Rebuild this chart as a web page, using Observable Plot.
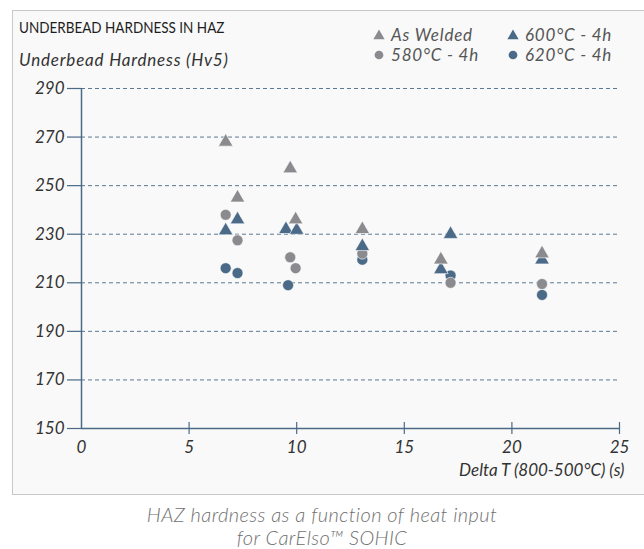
<!DOCTYPE html>
<html>
<head>
<meta charset="utf-8">
<script src="https://cdn.jsdelivr.net/npm/d3@7"></script>
<script src="https://cdn.jsdelivr.net/npm/@observablehq/plot@0.6"></script>
<style>
  html, body { margin: 0; padding: 0; background: #ffffff; }
  body { width: 644px; height: 549px; position: relative; overflow: hidden; font-family: Lato, "Open Sans", sans-serif; }
  #box { position: absolute; left: 12px; top: 10px; width: 640px; height: 483px; background: #f9f9f9;
         border-top: 1.5px solid #c8c8c8; border-left: 1.5px solid #c8c8c8; border-bottom: 1.5px solid #c8c8c8; }
  #title { position: absolute; left: 19px; top: 17px; font-size: 15.5px; color: #1e1e1e; line-height: 20px;
           transform: scaleX(0.87); transform-origin: 0 50%; white-space: nowrap; }
  #ylab { position: absolute; left: 19px; top: 50px; font-size: 17px; font-style: italic; color: #333; line-height: 20px; letter-spacing: 0.8px; white-space: nowrap; }
  #legend { position: absolute; left: 372px; top: 25px; font-size: 17px; font-style: italic; color: #555; letter-spacing: 0.8px; }
  .lg { position: absolute; white-space: nowrap; line-height: 20px; height: 20px; }
  .lg svg { position: absolute; left: 0; top: 0; }
  .lg span { position: absolute; left: 19px; top: 0; }
  #chart { position: absolute; left: 0; top: 70px; }
  #caption { position: absolute; left: 0; width: 644px; top: 503px; text-align: center; font-size: 20px; font-weight: 300; font-style: italic; color: #707070; line-height: 23px; letter-spacing: 0.4px; }
</style>
</head>
<body>
<div id="box"></div>
<div id="title">UNDERBEAD HARDNESS IN HAZ</div>
<div id="ylab">Underbead Hardness (Hv5)</div>
<div id="legend"></div>
<div id="chart"></div>
<div id="caption">HAZ hardness as a function of heat input<br>for CarElso™ SOHIC</div>
<script>
// ---- data ----
const seriesNames = ["As Welded", "580°C - 4h", "600°C - 4h", "620°C - 4h"];
const seriesSymbols = ["triangle", "circle", "triangle", "circle"];
const seriesColors = ["#8b8b8f", "#8b8b8f", "#4a6a88", "#4a6a88"];

const asWeldedX = [6.7, 7.25, 9.7, 9.95, 13.05, 16.7, 21.4];
const asWeldedY = [268, 245, 257, 236, 232, 219.5, 222];
const c580X = [6.7, 7.25, 9.7, 9.95, 13.05, 17.15, 21.4];
const c580Y = [238, 227.5, 220.5, 216, 222, 210, 209.5];
const c600X = [6.7, 7.25, 9.5, 10.0, 13.05, 16.7, 17.15, 21.4];
const c600Y = [231.5, 236, 232, 231.7, 225, 215.5, 230, 219.5];
const c620X = [6.7, 7.25, 9.6, 13.05, 17.15, 21.4];
const c620Y = [216, 214, 209, 219.5, 213, 205];

const xTicks = [0, 5, 10, 15, 20, 25];
const yTicks = [150, 170, 190, 210, 230, 250, 270, 290];
const xLabel = "Delta T (800-500°C) (s)";

const seriesX = [asWeldedX, c580X, c600X, c620X];
const seriesY = [asWeldedY, c580Y, c600Y, c620Y];
const table = (i) => seriesX[i].map((x, j) => ({x, y: seriesY[i][j], s: seriesNames[i]}));

// ---- legend ----
const legend = document.getElementById("legend");
const legendPos = [[0, 0], [0, 20], [134, 0], [134, 20]];
seriesNames.forEach((name, i) => {
  const d = document.createElement("div");
  d.className = "lg";
  d.style.left = legendPos[i][0] + "px";
  d.style.top = legendPos[i][1] + "px";
  const sym = seriesSymbols[i] === "triangle" ? d3.symbolTriangle : d3.symbolCircle;
  const size = seriesSymbols[i] === "triangle" ? 55 : 60;
  d.innerHTML = `<svg width="16" height="20"><path transform="translate(7,${seriesSymbols[i]==="triangle"?11:10})" d="${d3.symbol(sym, size)()}" fill="${seriesColors[i]}"/></svg><span>${name}</span>`;
  legend.appendChild(d);
});

// ---- chart ----
const order = [3, 1, 2, 0];
const dotMarks = order.map(i => Plot.dot(table(i), {
  x: "x", y: "y",
  symbol: () => seriesSymbols[i],
  r: seriesSymbols[i] === "triangle" ? 5.4 : 5.5,
  fill: seriesColors[i],
  stroke: "#ffffff", strokeWidth: 0.6
}));

const axisColor = "#4a6a88";
const chart = Plot.plot({
  width: 644,
  height: 420,
  marginLeft: 81,
  marginRight: 25,
  marginTop: 18,
  marginBottom: 62,
  style: { background: "transparent", fontFamily: "Lato, 'Open Sans', sans-serif", overflow: "visible" },
  x: { domain: [0, 25] },
  y: { domain: [150, 290] },
  symbol: { type: "identity" },
  marks: [
    Plot.gridY(yTicks.filter(t => t > 150), { stroke: axisColor, strokeOpacity: 0.9, strokeWidth: 1, strokeDasharray: "4,3" }),
    Plot.ruleY([150], { stroke: axisColor, strokeWidth: 1.5 }),
    Plot.ruleX([0], { stroke: axisColor, strokeWidth: 1.5 }),
    Plot.ruleX(xTicks.filter(t => t > 0), { x: d => d, y1: 150, y2: 150, insetTop: -6, insetBottom: -6, stroke: axisColor, strokeWidth: 1.2 }),
    Plot.axisY(yTicks, { tickSize: 14, tickPadding: 3, stroke: axisColor, strokeWidth: 1.2, fontSize: 17, fontStyle: "italic", fill: "#333", letterSpacing: "1px", label: null }),
    Plot.axisX(xTicks, { tickSize: 0, tickPadding: 12, fontSize: 17, fontStyle: "italic", fill: "#333", letterSpacing: "1px", label: null }),
    Plot.text([xLabel], { frameAnchor: "bottom-right", dx: 5, dy: 42, textAnchor: "end", lineAnchor: "middle", fontSize: 17, fontStyle: "italic", fill: "#333", letterSpacing: "1.2px" }),
    ...dotMarks
  ]
});
document.getElementById("chart").appendChild(chart);
</script>
</body>
</html>
